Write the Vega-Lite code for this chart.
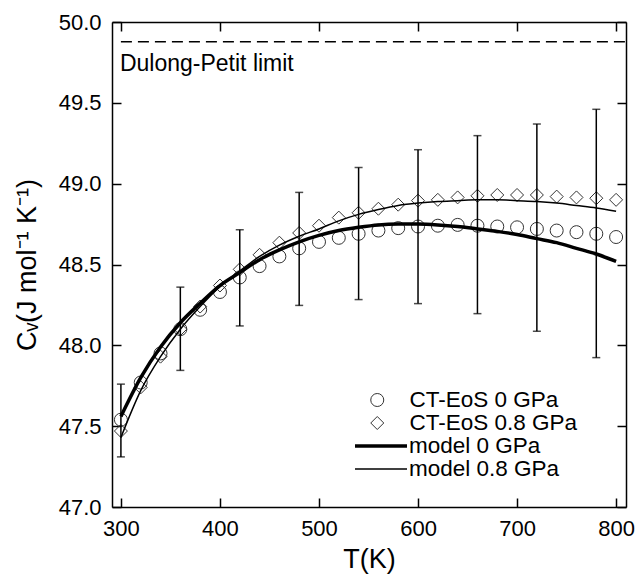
{
  "$schema": "https://vega.github.io/schema/vega-lite/v6.json",
  "width": 514,
  "height": 485,
  "autosize": {"type": "none"},
  "padding": {"left": 112, "top": 22, "right": 12, "bottom": 67},
  "background": "white",
  "config": {
    "view": {"stroke": null},
    "font": "Liberation Sans",
    "axis": {
      "grid": false,
      "domainColor": "#000",
      "domainWidth": 1.5,
      "tickColor": "#000",
      "tickWidth": 1.5,
      "tickSize": -9,
      "labelPadding": 20,
      "labelFontSize": 22,
      "labelColor": "#000",
      "labelFont": "Liberation Sans",
      "labelFlush": false,
      "titleFontSize": 27,
      "titleFontWeight": "normal",
      "titleColor": "#000",
      "titleFont": "Liberation Sans"
    },
    "legend": {
      "labelFont": "Liberation Sans",
      "labelFontSize": 22.5,
      "labelColor": "#000",
      "labelLimit": 400,
      "padding": 0,
      "clipHeight": 22
    }
  },
  "datasets": {
    "pts": [
      {"T": 300, "Cv": 47.54, "series": "CT-EoS 0 GPa"},
      {"T": 320, "Cv": 47.77, "series": "CT-EoS 0 GPa"},
      {"T": 340, "Cv": 47.95, "series": "CT-EoS 0 GPa"},
      {"T": 360, "Cv": 48.10, "series": "CT-EoS 0 GPa"},
      {"T": 380, "Cv": 48.22, "series": "CT-EoS 0 GPa"},
      {"T": 400, "Cv": 48.33, "series": "CT-EoS 0 GPa"},
      {"T": 420, "Cv": 48.42, "series": "CT-EoS 0 GPa"},
      {"T": 440, "Cv": 48.49, "series": "CT-EoS 0 GPa"},
      {"T": 460, "Cv": 48.55, "series": "CT-EoS 0 GPa"},
      {"T": 480, "Cv": 48.60, "series": "CT-EoS 0 GPa"},
      {"T": 500, "Cv": 48.64, "series": "CT-EoS 0 GPa"},
      {"T": 520, "Cv": 48.665, "series": "CT-EoS 0 GPa"},
      {"T": 540, "Cv": 48.69, "series": "CT-EoS 0 GPa"},
      {"T": 560, "Cv": 48.71, "series": "CT-EoS 0 GPa"},
      {"T": 580, "Cv": 48.725, "series": "CT-EoS 0 GPa"},
      {"T": 600, "Cv": 48.735, "series": "CT-EoS 0 GPa"},
      {"T": 620, "Cv": 48.74, "series": "CT-EoS 0 GPa"},
      {"T": 640, "Cv": 48.745, "series": "CT-EoS 0 GPa"},
      {"T": 660, "Cv": 48.74, "series": "CT-EoS 0 GPa"},
      {"T": 680, "Cv": 48.735, "series": "CT-EoS 0 GPa"},
      {"T": 700, "Cv": 48.73, "series": "CT-EoS 0 GPa"},
      {"T": 720, "Cv": 48.72, "series": "CT-EoS 0 GPa"},
      {"T": 740, "Cv": 48.71, "series": "CT-EoS 0 GPa"},
      {"T": 760, "Cv": 48.70, "series": "CT-EoS 0 GPa"},
      {"T": 780, "Cv": 48.69, "series": "CT-EoS 0 GPa"},
      {"T": 800, "Cv": 48.67, "series": "CT-EoS 0 GPa"},
      {"T": 300, "Cv": 47.47, "series": "CT-EoS 0.8 GPa"},
      {"T": 320, "Cv": 47.74, "series": "CT-EoS 0.8 GPa"},
      {"T": 340, "Cv": 47.93, "series": "CT-EoS 0.8 GPa"},
      {"T": 360, "Cv": 48.10, "series": "CT-EoS 0.8 GPa"},
      {"T": 380, "Cv": 48.24, "series": "CT-EoS 0.8 GPa"},
      {"T": 400, "Cv": 48.37, "series": "CT-EoS 0.8 GPa"},
      {"T": 420, "Cv": 48.47, "series": "CT-EoS 0.8 GPa"},
      {"T": 440, "Cv": 48.56, "series": "CT-EoS 0.8 GPa"},
      {"T": 460, "Cv": 48.635, "series": "CT-EoS 0.8 GPa"},
      {"T": 480, "Cv": 48.695, "series": "CT-EoS 0.8 GPa"},
      {"T": 500, "Cv": 48.74, "series": "CT-EoS 0.8 GPa"},
      {"T": 520, "Cv": 48.79, "series": "CT-EoS 0.8 GPa"},
      {"T": 540, "Cv": 48.82, "series": "CT-EoS 0.8 GPa"},
      {"T": 560, "Cv": 48.845, "series": "CT-EoS 0.8 GPa"},
      {"T": 580, "Cv": 48.87, "series": "CT-EoS 0.8 GPa"},
      {"T": 600, "Cv": 48.895, "series": "CT-EoS 0.8 GPa"},
      {"T": 620, "Cv": 48.90, "series": "CT-EoS 0.8 GPa"},
      {"T": 640, "Cv": 48.915, "series": "CT-EoS 0.8 GPa"},
      {"T": 660, "Cv": 48.925, "series": "CT-EoS 0.8 GPa"},
      {"T": 680, "Cv": 48.93, "series": "CT-EoS 0.8 GPa"},
      {"T": 700, "Cv": 48.93, "series": "CT-EoS 0.8 GPa"},
      {"T": 720, "Cv": 48.93, "series": "CT-EoS 0.8 GPa"},
      {"T": 740, "Cv": 48.92, "series": "CT-EoS 0.8 GPa"},
      {"T": 760, "Cv": 48.915, "series": "CT-EoS 0.8 GPa"},
      {"T": 780, "Cv": 48.91, "series": "CT-EoS 0.8 GPa"},
      {"T": 800, "Cv": 48.90, "series": "CT-EoS 0.8 GPa"}
    ],
    "model": [
      {"T": 300, "Cv": 47.56, "series": "model 0 GPa"},
      {"T": 320, "Cv": 47.80, "series": "model 0 GPa"},
      {"T": 340, "Cv": 47.99, "series": "model 0 GPa"},
      {"T": 360, "Cv": 48.14, "series": "model 0 GPa"},
      {"T": 380, "Cv": 48.26, "series": "model 0 GPa"},
      {"T": 400, "Cv": 48.37, "series": "model 0 GPa"},
      {"T": 420, "Cv": 48.45, "series": "model 0 GPa"},
      {"T": 440, "Cv": 48.53, "series": "model 0 GPa"},
      {"T": 460, "Cv": 48.59, "series": "model 0 GPa"},
      {"T": 480, "Cv": 48.64, "series": "model 0 GPa"},
      {"T": 500, "Cv": 48.68, "series": "model 0 GPa"},
      {"T": 520, "Cv": 48.71, "series": "model 0 GPa"},
      {"T": 540, "Cv": 48.73, "series": "model 0 GPa"},
      {"T": 560, "Cv": 48.745, "series": "model 0 GPa"},
      {"T": 580, "Cv": 48.75, "series": "model 0 GPa"},
      {"T": 600, "Cv": 48.75, "series": "model 0 GPa"},
      {"T": 620, "Cv": 48.745, "series": "model 0 GPa"},
      {"T": 640, "Cv": 48.735, "series": "model 0 GPa"},
      {"T": 660, "Cv": 48.72, "series": "model 0 GPa"},
      {"T": 680, "Cv": 48.705, "series": "model 0 GPa"},
      {"T": 700, "Cv": 48.685, "series": "model 0 GPa"},
      {"T": 720, "Cv": 48.66, "series": "model 0 GPa"},
      {"T": 740, "Cv": 48.635, "series": "model 0 GPa"},
      {"T": 760, "Cv": 48.60, "series": "model 0 GPa"},
      {"T": 780, "Cv": 48.565, "series": "model 0 GPa"},
      {"T": 800, "Cv": 48.52, "series": "model 0 GPa"},
      {"T": 300, "Cv": 47.43, "series": "model 0.8 GPa"},
      {"T": 320, "Cv": 47.72, "series": "model 0.8 GPa"},
      {"T": 340, "Cv": 47.93, "series": "model 0.8 GPa"},
      {"T": 360, "Cv": 48.10, "series": "model 0.8 GPa"},
      {"T": 380, "Cv": 48.24, "series": "model 0.8 GPa"},
      {"T": 400, "Cv": 48.365, "series": "model 0.8 GPa"},
      {"T": 420, "Cv": 48.46, "series": "model 0.8 GPa"},
      {"T": 440, "Cv": 48.55, "series": "model 0.8 GPa"},
      {"T": 460, "Cv": 48.62, "series": "model 0.8 GPa"},
      {"T": 480, "Cv": 48.675, "series": "model 0.8 GPa"},
      {"T": 500, "Cv": 48.72, "series": "model 0.8 GPa"},
      {"T": 520, "Cv": 48.77, "series": "model 0.8 GPa"},
      {"T": 540, "Cv": 48.81, "series": "model 0.8 GPa"},
      {"T": 560, "Cv": 48.84, "series": "model 0.8 GPa"},
      {"T": 580, "Cv": 48.865, "series": "model 0.8 GPa"},
      {"T": 600, "Cv": 48.88, "series": "model 0.8 GPa"},
      {"T": 620, "Cv": 48.89, "series": "model 0.8 GPa"},
      {"T": 640, "Cv": 48.895, "series": "model 0.8 GPa"},
      {"T": 660, "Cv": 48.90, "series": "model 0.8 GPa"},
      {"T": 680, "Cv": 48.90, "series": "model 0.8 GPa"},
      {"T": 700, "Cv": 48.895, "series": "model 0.8 GPa"},
      {"T": 720, "Cv": 48.89, "series": "model 0.8 GPa"},
      {"T": 740, "Cv": 48.88, "series": "model 0.8 GPa"},
      {"T": 760, "Cv": 48.865, "series": "model 0.8 GPa"},
      {"T": 780, "Cv": 48.85, "series": "model 0.8 GPa"},
      {"T": 800, "Cv": 48.83, "series": "model 0.8 GPa"}
    ],
    "err": [
      {"T": 300, "lo": 47.31, "hi": 47.76},
      {"T": 360, "lo": 47.845, "hi": 48.36},
      {"T": 420, "lo": 48.12, "hi": 48.715},
      {"T": 480, "lo": 48.247, "hi": 48.946},
      {"T": 540, "lo": 48.283, "hi": 49.10},
      {"T": 600, "lo": 48.258, "hi": 49.21},
      {"T": 660, "lo": 48.196, "hi": 49.297},
      {"T": 720, "lo": 48.087, "hi": 49.369},
      {"T": 780, "lo": 47.924, "hi": 49.46}
    ],
    "limit": [
      {"label": "Dulong-Petit limit", "Cv": 49.878}
    ]
  },
  "resolve": {"axis": {"x": "independent", "y": "independent"}},
  "layer": [
    {
      "data": {"name": "pts"},
      "mark": {"type": "point", "filled": false, "stroke": "#333", "strokeWidth": 1, "size": 169, "opacity": 1},
      "encoding": {
        "x": {"field": "T", "type": "quantitative",
              "scale": {"domain": [291, 810], "nice": false, "zero": false},
              "axis": {"orient": "bottom", "values": [300, 400, 500, 600, 700, 800], "title": "T(K)", "titlePadding": 7}},
        "y": {"field": "Cv", "type": "quantitative",
              "scale": {"domain": [47, 50], "nice": false, "zero": false},
              "axis": {"orient": "left", "values": [47, 47.5, 48, 48.5, 49, 49.5, 50], "format": ".1f", "title": "Cᵥ(J mol⁻¹ K⁻¹)", "titlePadding": 17}},
        "shape": {"field": "series", "type": "nominal",
                  "scale": {"domain": ["CT-EoS 0 GPa", "CT-EoS 0.8 GPa"], "range": ["circle", "diamond"]},
                  "legend": {"orient": "none", "legendX": 254, "legendY": 367, "title": null,
                             "symbolSize": 169, "symbolStrokeColor": "#333", "symbolFillColor": "transparent",
                             "symbolStrokeWidth": 1, "labelOffset": 21, "rowPadding": -1.5}}
      }
    },
    {
      "data": {"name": "model"},
      "mark": {"type": "line", "stroke": "#000", "interpolate": "monotone"},
      "encoding": {
        "x": {"field": "T", "type": "quantitative",
              "scale": {"domain": [291, 810], "nice": false, "zero": false},
              "axis": {"orient": "top", "values": [300, 400, 500, 600, 700, 800], "labels": false, "title": null}},
        "y": {"field": "Cv", "type": "quantitative",
              "scale": {"domain": [47, 50], "nice": false, "zero": false},
              "axis": {"orient": "right", "values": [47, 47.5, 48, 48.5, 49, 49.5, 50], "labels": false, "title": null}},
        "strokeWidth": {"field": "series", "type": "nominal",
                        "scale": {"type": "ordinal", "domain": ["model 0 GPa", "model 0.8 GPa"], "range": [3.5, 1.5]},
                        "legend": {"orient": "none", "legendX": 241, "legendY": 413, "title": null,
                                   "symbolType": "stroke", "symbolSize": 2704, "symbolStrokeColor": "#000",
                                   "labelOffset": 0, "rowPadding": -1.5}}
      }
    },
    {
      "data": {"name": "err"},
      "mark": {"type": "errorbar", "ticks": {"size": 8, "thickness": 1.5, "color": "#000"}, "rule": {"strokeWidth": 1.5, "color": "#000"}},
      "encoding": {
        "x": {"field": "T", "type": "quantitative", "scale": {"domain": [291, 810], "nice": false, "zero": false}, "axis": null},
        "y": {"field": "lo", "type": "quantitative", "scale": {"domain": [47, 50], "nice": false, "zero": false}, "axis": null},
        "y2": {"field": "hi"}
      }
    },
    {
      "data": {"name": "limit"},
      "mark": {"type": "rule", "stroke": "#000", "strokeWidth": 1.5, "strokeDash": [11, 6]},
      "encoding": {
        "x": {"datum": 300, "type": "quantitative", "scale": {"domain": [291, 810], "nice": false, "zero": false}, "axis": null},
        "x2": {"datum": 810},
        "y": {"field": "Cv", "type": "quantitative", "scale": {"domain": [47, 50], "nice": false, "zero": false}, "axis": null}
      }
    },
    {
      "data": {"name": "limit"},
      "mark": {"type": "text", "align": "left", "baseline": "alphabetic", "fontSize": 23, "font": "Liberation Sans", "color": "#000"},
      "encoding": {
        "x": {"datum": 299, "type": "quantitative", "scale": {"domain": [291, 810], "nice": false, "zero": false}, "axis": null},
        "y": {"datum": 49.70, "type": "quantitative", "scale": {"domain": [47, 50], "nice": false, "zero": false}, "axis": null},
        "text": {"field": "label"}
      }
    }
  ]
}
